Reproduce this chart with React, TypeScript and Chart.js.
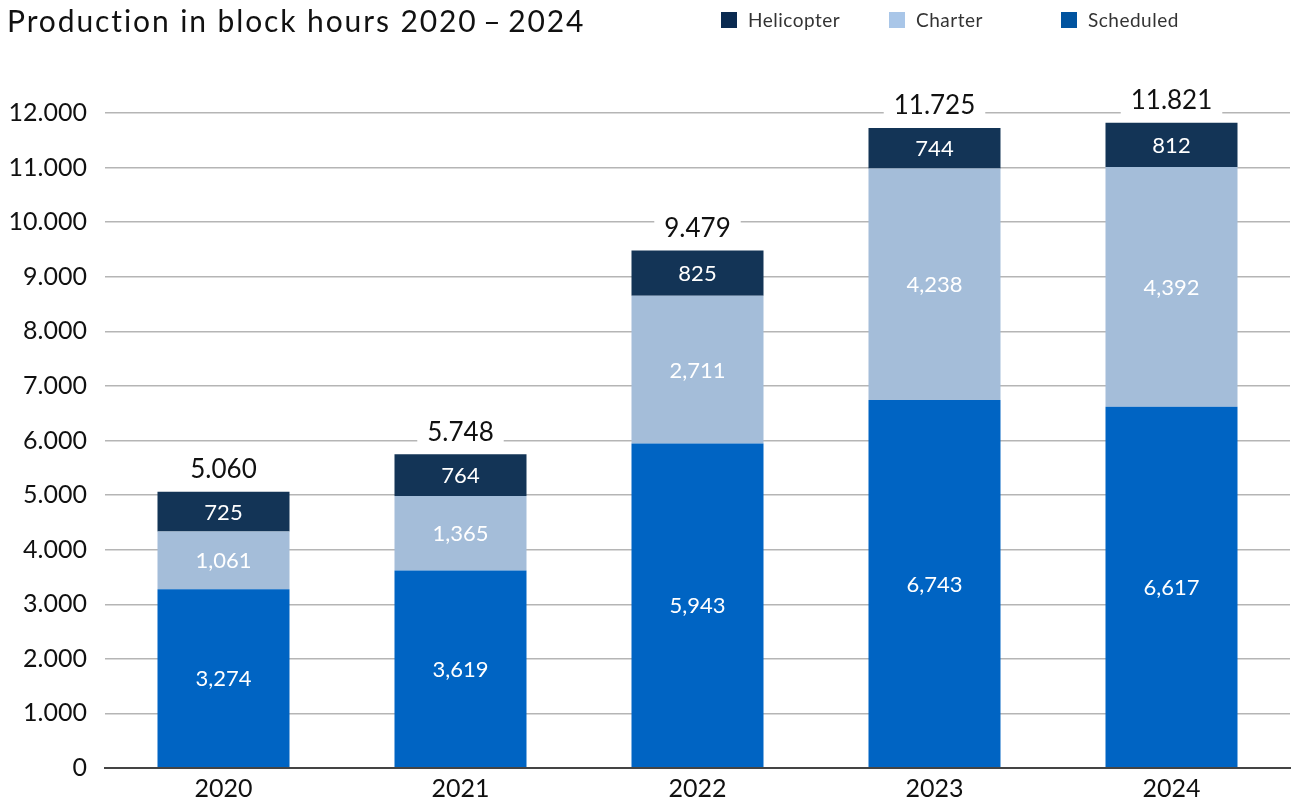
import React, { useEffect, useRef } from "react";
import { Chart, registerables } from "chart.js";
Chart.register(...registerables);

const titleText = "Production in block hours 2020\u2009–\u20092024";
const categories = ["2020", "2021", "2022", "2023", "2024"];
const scheduled = [3274, 3619, 5943, 6743, 6617];
const charter = [1061, 1365, 2711, 4238, 4392];
const helicopter = [725, 764, 825, 744, 812];
const yMin = 0;
const yMax = 12000;
const yStep = 1000;

const seriesNames = ["Scheduled", "Charter", "Helicopter"];
const barColors = ["#0064c3", "#a4bdd9", "#133456"];
const legendOrder = ["Helicopter", "Charter", "Scheduled"];
const legendColors = ["#0a2a50", "#a9c6e8", "#00539f"];
const legendX = [721, 889, 1061];

const FONT = "Lato, 'Noto Sans', sans-serif";

const fmtDot = (v: number) => {
  const s = Math.round(v).toString();
  return s.replace(/\B(?=(\d{3})+(?!\d))/g, ".");
};
const fmtComma = (v: number) => {
  const s = Math.round(v).toString();
  return s.replace(/\B(?=(\d{3})+(?!\d))/g, ",");
};

const labelsPlugin = {
  id: "customLabels",
  afterDatasetsDraw(chart: any) {
    const ctx = chart.ctx;
    ctx.save();
    ctx.textAlign = "center";
    ctx.textBaseline = "middle";
    ctx.font = `22px ${FONT}`;
    ctx.fillStyle = "#ffffff";
    chart.data.datasets.forEach((ds: any, i: number) => {
      const meta = chart.getDatasetMeta(i);
      meta.data.forEach((el: any, j: number) => {
        const cy = (el.y + el.base) / 2;
        ctx.fillText(fmtComma(ds.data[j]), el.x, cy + 1);
      });
    });
    const last = chart.getDatasetMeta(chart.data.datasets.length - 1);
    ctx.font = `26px ${FONT}`;
    last.data.forEach((el: any, j: number) => {
      const total = scheduled[j] + charter[j] + helicopter[j];
      const txt = fmtDot(total);
      const w = ctx.measureText(txt).width;
      const cy = el.y - 22;
      ctx.fillStyle = "#ffffff";
      ctx.fillRect(el.x - w / 2 - 10, cy - 14, w + 20, 28);
      ctx.fillStyle = "#111111";
      ctx.fillText(txt, el.x, cy);
    });
    ctx.restore();
  },
  afterDraw(chart: any) {
    const ctx = chart.ctx;
    ctx.save();
    ctx.textAlign = "left";
    ctx.textBaseline = "middle";
    ctx.fillStyle = "#111111";
    ctx.font = `30px ${FONT}`;
    (ctx as any).letterSpacing = "1.9px";
    ctx.fillText(titleText, 7, 22);
    (ctx as any).letterSpacing = "0.5px";
    ctx.font = `19px ${FONT}`;
    legendOrder.forEach((name, i) => {
      const x = legendX[i];
      ctx.fillStyle = legendColors[i];
      ctx.fillRect(x, 12, 16, 16);
      ctx.fillStyle = "#333333";
      ctx.fillText(name, x + 27, 21);
    });
    (ctx as any).letterSpacing = "0px";
    ctx.restore();
  },
};

export default function App() {
  const ref = useRef<HTMLCanvasElement | null>(null);
  useEffect(() => {
    document.body.style.margin = "0";
    const canvas = ref.current;
    if (!canvas) return;
    const datasets = [scheduled, charter, helicopter].map((d, i) => ({
      label: seriesNames[i],
      data: d,
      backgroundColor: barColors[i],
      borderWidth: 0,
      barPercentage: 1,
      categoryPercentage: 0.557,
    }));
    const chart = new Chart(canvas, {
      type: "bar",
      data: { labels: categories, datasets },
      options: {
        animation: false,
        responsive: false,
        maintainAspectRatio: false,
        layout: { padding: { top: 113, right: 2, left: 0, bottom: 0 } },
        plugins: {
          legend: { display: false },
          title: { display: false },
          tooltip: { enabled: false },
        },
        scales: {
          x: {
            stacked: true,
            grid: { display: false, drawTicks: false },
            border: { display: true, color: "#444444", width: 2 },
            ticks: { color: "#111111", font: { family: FONT, size: 25 }, padding: 6 },
            afterFit: (s: any) => { s.height = 35; },
          },
          y: {
            stacked: true,
            min: yMin,
            max: yMax,
            border: { display: false },
            grid: {
              drawTicks: false,
              color: (c: any) => (c.tick && c.tick.value === 0 ? "#444444" : "#b5b5b5"),
              lineWidth: (c: any) => (c.tick && c.tick.value === 0 ? 2 : 1.5),
            },
            ticks: {
              stepSize: yStep,
              color: "#111111",
              font: { family: FONT, size: 25 },
              padding: 18,
              callback: (v: any) => fmtDot(Number(v)),
            },
            afterFit: (s: any) => { s.width = 105; },
          },
        },
      },
      plugins: [labelsPlugin],
    });
    return () => chart.destroy();
  }, []);
  return <canvas ref={ref} width={1292} height={803} style={{ display: "block" }} />;
}
